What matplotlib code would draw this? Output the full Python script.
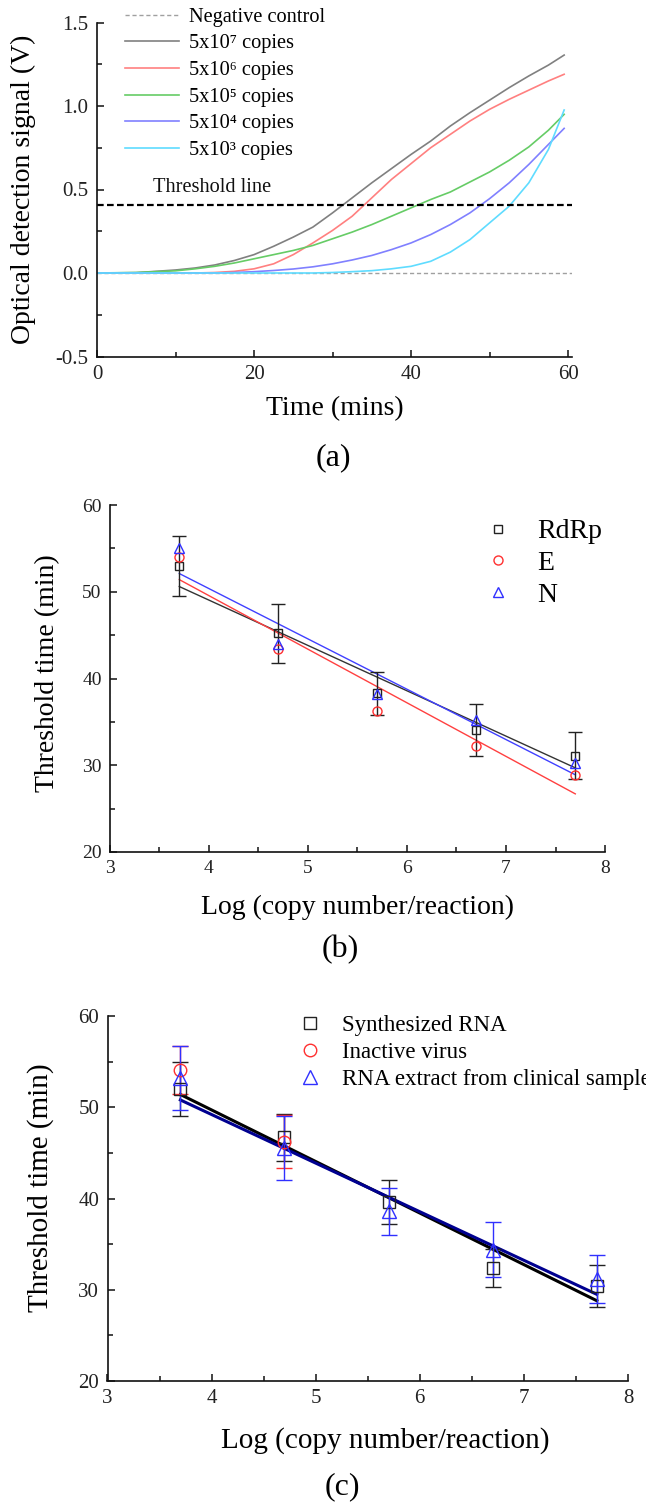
import numpy as np
import matplotlib
matplotlib.use("Agg")
import matplotlib.pyplot as plt
from matplotlib.ticker import MultipleLocator, FormatStrFormatter

plt.rcParams['font.family'] = ['Liberation Serif', 'DejaVu Serif']
plt.rcParams['axes.unicode_minus'] = False

# ---------------- Panel (a) data ----------------
time_min = [0, 5, 10, 12.5, 15, 17.5, 20, 22.5, 25, 27.5, 30, 32.5, 35, 37.5,
            40, 42.5, 45, 47.5, 50, 52.5, 55, 57.5, 59.5]
sig_5e7 = [0, 0.002, 0.018, 0.03, 0.048, 0.075, 0.11, 0.16, 0.215, 0.275, 0.36, 0.45,
           0.54, 0.625, 0.71, 0.79, 0.88, 0.96, 1.035, 1.11, 1.18, 1.245, 1.305]
sig_5e6 = [0, 0, 0, 0, 0.003, 0.01, 0.025, 0.055, 0.11, 0.18, 0.255, 0.34,
           0.45, 0.56, 0.655, 0.75, 0.83, 0.91, 0.98, 1.04, 1.095, 1.15, 1.19]
sig_5e5 = [0, 0.003, 0.013, 0.025, 0.04, 0.06, 0.085, 0.11, 0.135, 0.165, 0.205, 0.245,
           0.29, 0.34, 0.39, 0.44, 0.485, 0.545, 0.605, 0.675, 0.755, 0.855, 0.95]
sig_5e4 = [0, 0, 0, 0, 0, 0.003, 0.008, 0.015, 0.024, 0.037, 0.055, 0.078,
           0.105, 0.14, 0.18, 0.23, 0.29, 0.36, 0.445, 0.54, 0.65, 0.77, 0.866]
sig_5e3 = [0, 0, 0, 0, 0, 0, 0, 0, 0, 0, 0.003, 0.008,
           0.014, 0.025, 0.04, 0.07, 0.125, 0.2, 0.3, 0.4, 0.54, 0.74, 0.976]
series_a_labels = ['5x10\u2077 copies', '5x10\u2076 copies', '5x10\u2075 copies',
                   '5x10\u2074 copies', '5x10\u00b3 copies']
NEG_LEVEL = 0.0
THRESHOLD = 0.41

# ---------------- Panel (b) data ----------------
log_copies = [3.7, 4.7, 5.7, 6.7, 7.7]
rdrp_t = [53.0, 45.2, 38.3, 34.1, 31.1]
rdrp_err = [3.45, 3.4, 2.5, 3.0, 2.7]
e_t = [54.05, 43.45, 36.2, 32.2, 28.9]
n_t = [55.0, 44.0, 38.2, 35.2, 30.25]
fit_x = [3.7, 7.7]
fit_b_rdrp = [50.6, 29.7]
fit_b_e = [51.4, 26.7]
fit_b_n = [52.1, 28.9]

# ---------------- Panel (c) data ----------------
syn_t = [52.0, 46.7, 39.6, 32.4, 30.4]
syn_err = [3.0, 2.6, 2.4, 2.1, 2.3]
inact_x = [3.7, 4.7]
inact_t = [54.1, 46.2]
inact_err = [2.6, 2.9]
clin_t = [53.2, 45.5, 38.6, 34.4, 31.2]
clin_err = [3.5, 3.5, 2.6, 3.0, 2.6]
fit_c_syn = [51.4, 28.8]
fit_c_clin = [50.8, 29.5]

W, H = 646, 1502
fig = plt.figure(figsize=(W / 100, H / 100), dpi=100)

def ax_px(left, top, right, bottom):
    return fig.add_axes([left / W, 1 - bottom / H, (right - left) / W, (bottom - top) / H])

def style_axes(ax, lab_size):
    for s in ['top', 'right']:
        ax.spines[s].set_visible(False)
    for s in ['left', 'bottom']:
        ax.spines[s].set_linewidth(1.2)
        ax.spines[s].set_color('#111111')
    ax.tick_params(which='both', direction='in', colors='#111111', width=1.1,
                   labelsize=lab_size, labelcolor='#222222')
    ax.tick_params(which='major', length=5, pad=6)
    ax.tick_params(which='minor', length=3.5)

# ---------------- Panel (a) ----------------
axa = ax_px(97, 22.5, 572, 356.5)
colors_a = ['#808080', '#ff8080', '#66cc66', '#8080ff', '#5fdcff']
axa.axhline(NEG_LEVEL, color='#a0a0a0', lw=1.0, ls=(0, (3, 2)), label='Negative control')
for ys, c, lab in zip([sig_5e7, sig_5e6, sig_5e5, sig_5e4, sig_5e3], colors_a, series_a_labels):
    axa.plot(time_min, ys, color=c, lw=1.2, label=lab)
axa.axhline(THRESHOLD, color='black', lw=1.6, ls=(0, (3, 1.5)))
axa.text(7.1, 0.51, 'Threshold line', fontsize=14.7, va='center', ha='left', color='#111111')
axa.set_xlim(0, 60.5)
axa.set_ylim(-0.5, 1.5)
axa.xaxis.set_major_locator(MultipleLocator(20))
axa.xaxis.set_minor_locator(MultipleLocator(10))
axa.yaxis.set_major_locator(MultipleLocator(0.5))
axa.yaxis.set_minor_locator(MultipleLocator(0.25))
axa.yaxis.set_major_formatter(FormatStrFormatter('%.1f'))
style_axes(axa, 15)
axa.set_xlabel('Time (mins)', fontsize=20)
axa.set_ylabel('Optical detection signal (V)', fontsize=20)
axa.xaxis.set_label_coords(0.5, -0.12)
axa.yaxis.set_label_coords(-0.128, 0.5)
axa.legend(loc='upper left', bbox_to_anchor=(0.059, 1.045), frameon=False, fontsize=14.7,
           handlelength=2.65, handletextpad=0.5, labelspacing=0.36, borderpad=0,
           borderaxespad=0)
fig.text(333 / W, 1 - 458 / H, '(a)', fontsize=23, ha='center', va='center')

# ---------------- Panel (b) ----------------
axb = ax_px(110, 505, 605, 852)
axb.plot(fit_x, fit_b_rdrp, color='#333333', lw=1.0)
axb.plot(fit_x, fit_b_e, color='#ff4040', lw=1.0)
axb.plot(fit_x, fit_b_n, color='#4040ff', lw=1.0)
axb.errorbar(log_copies, rdrp_t, yerr=rdrp_err, fmt='none', ecolor='#222222',
             elinewidth=1.0, capsize=5, capthick=1.0)
axb.plot(log_copies, rdrp_t, ls='none', marker='s', ms=5.5, mfc='none', mec='#222222',
         mew=1.0, label='RdRp')
axb.plot(log_copies, e_t, ls='none', marker='o', ms=6.5, mfc='none', mec='#ff3030',
         mew=1.0, label='E')
axb.plot(log_copies, n_t, ls='none', marker='^', ms=6.5, mfc='none', mec='#3030ff',
         mew=1.0, label='N')
axb.set_xlim(3, 8)
axb.set_ylim(20, 60)
axb.xaxis.set_major_locator(MultipleLocator(1))
axb.xaxis.set_minor_locator(MultipleLocator(0.5))
axb.yaxis.set_major_locator(MultipleLocator(10))
axb.yaxis.set_minor_locator(MultipleLocator(5))
style_axes(axb, 14)
axb.set_xlabel('Log (copy number/reaction)', fontsize=20)
axb.set_ylabel('Threshold time (min)', fontsize=20)
axb.xaxis.set_label_coords(0.5, -0.124)
axb.yaxis.set_label_coords(-0.101, 0.516)
axb.legend(loc='upper left', bbox_to_anchor=(0.756, 0.96), frameon=False, fontsize=20,
           handlelength=1.0, handletextpad=0.92, labelspacing=0.23, borderpad=0,
           borderaxespad=0)
fig.text(340 / W, 1 - 950 / H, '(b)', fontsize=23, ha='center', va='center')

# ---------------- Panel (c) ----------------
axc = ax_px(107.5, 1016, 628, 1381)
axc.plot(fit_x, fit_c_syn, color='black', lw=2.2)
axc.plot(fit_x, fit_c_clin, color='#000090', lw=2.2)
axc.errorbar(log_copies, syn_t, yerr=syn_err, fmt='none', ecolor='#222222',
             elinewidth=1.0, capsize=6, capthick=1.0)
axc.errorbar(inact_x, inact_t, yerr=inact_err, fmt='none', ecolor='#ff3030',
             elinewidth=1.0, capsize=6, capthick=1.0)
axc.errorbar(log_copies, clin_t, yerr=clin_err, fmt='none', ecolor='#3030ff',
             elinewidth=1.0, capsize=6, capthick=1.0)
axc.plot(log_copies, syn_t, ls='none', marker='s', ms=8, mfc='none', mec='#222222',
         mew=1.0, label='Synthesized RNA')
axc.plot(inact_x, inact_t, ls='none', marker='o', ms=9, mfc='none', mec='#ff3030',
         mew=1.0, label='Inactive virus')
axc.plot(log_copies, clin_t, ls='none', marker='^', ms=10, mfc='none', mec='#3030ff',
         mew=1.0, label='RNA extract from clinical sample')
axc.set_xlim(3, 8)
axc.set_ylim(20, 60)
axc.xaxis.set_major_locator(MultipleLocator(1))
axc.xaxis.set_minor_locator(MultipleLocator(0.5))
axc.yaxis.set_major_locator(MultipleLocator(10))
axc.yaxis.set_minor_locator(MultipleLocator(5))
style_axes(axc, 15)
axc.set_xlabel('Log (copy number/reaction)', fontsize=21)
axc.set_ylabel('Threshold time (min)', fontsize=21)
axc.xaxis.set_label_coords(0.533, -0.126)
axc.yaxis.set_label_coords(-0.103, 0.53)
axc.legend(loc='upper left', bbox_to_anchor=(0.367, 1.002), frameon=False, fontsize=16.5,
           handlelength=1.0, handletextpad=0.9, labelspacing=0.26, borderpad=0,
           borderaxespad=0)
fig.text(342 / W, 1 - 1487 / H, '(c)', fontsize=23, ha='center', va='center')

fig.savefig('out.png', dpi=100)
